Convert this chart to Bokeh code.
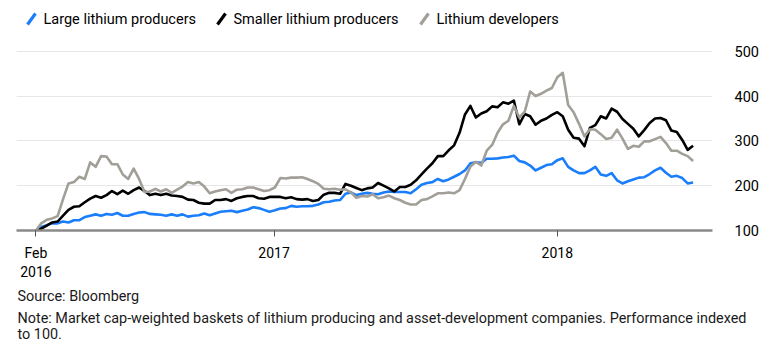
import pandas as pd
from datetime import datetime
from bokeh.plotting import figure
from bokeh.layouts import column
from bokeh.models import Range1d, FixedTicker, ColumnDataSource
from bokeh.core.properties import value
from bokeh.embed import file_html
from bokeh.resources import INLINE

FONT = "Roboto"

# ---- data (weekly readings, indexed to 100) ----
dates = pd.date_range("2016-02-29", "2018-06-25", freq="7D")

large = [100, 108, 112, 116, 116, 120, 118, 123, 123, 130, 133, 136, 133, 137, 135, 139,
         133, 133, 137, 140, 141, 137, 136, 135, 133, 136, 133, 136, 131, 133, 134, 138,
         134, 138, 142, 143, 144, 141, 144, 147, 152, 150, 146, 142, 145, 149, 150, 155,
         153, 154, 154, 155, 158, 163, 164, 167, 168, 182, 185, 179, 182, 184, 182, 181,
         185, 187, 186, 186, 186, 183, 192, 202, 206, 208, 215, 210, 214, 220, 226, 234,
         250, 252, 251, 260, 260, 261, 263, 264, 267, 255, 252, 245, 234, 240, 246, 248,
         257, 261, 242, 234, 228, 228, 234, 242, 225, 222, 228, 212, 205, 210, 214, 218,
         219, 226, 234, 240, 229, 220, 222, 217, 205, 207]

smaller = [100, 104, 111, 118, 120, 133, 146, 153, 154, 163, 171, 177, 173, 179, 188, 181,
           189, 182, 190, 196, 188, 179, 182, 179, 182, 178, 177, 175, 169, 168, 162, 160,
           160, 168, 168, 170, 166, 172, 175, 177, 177, 172, 171, 175, 175, 175, 172, 174,
           170, 169, 170, 166, 168, 180, 184, 184, 182, 204, 200, 195, 190, 194, 196, 206,
           200, 194, 187, 197, 197, 202, 212, 225, 238, 250, 266, 266, 279, 290, 318, 359,
           378, 352, 361, 366, 377, 375, 386, 383, 390, 337, 360, 355, 336, 345, 350, 358,
           364, 355, 325, 307, 305, 288, 329, 335, 355, 350, 372, 365, 349, 338, 327, 310,
           324, 340, 350, 351, 346, 323, 320, 302, 280, 289]

developers = [100, 116, 124, 127, 132, 170, 205, 208, 220, 215, 252, 242, 266, 265, 248, 248,
              225, 215, 238, 215, 186, 187, 193, 187, 192, 184, 191, 198, 208, 205, 208, 198,
              183, 187, 190, 192, 184, 191, 192, 196, 196, 192, 188, 190, 196, 217, 216, 218,
              218, 219, 215, 210, 204, 193, 192, 193, 191, 192, 185, 173, 177, 176, 181, 172,
              174, 178, 172, 168, 162, 158, 158, 168, 170, 176, 183, 183, 185, 183, 190, 215,
              243, 253, 245, 278, 291, 318, 337, 345, 378, 352, 365, 410, 400, 405, 412, 418,
              442, 452, 380, 364, 338, 310, 326, 325, 315, 304, 307, 325, 305, 282, 289, 287,
              299, 299, 304, 309, 295, 278, 278, 271, 266, 255]

series_names = ["Large lithium producers", "Smaller lithium producers", "Lithium developers"]
series_colors = ["#1a7efb", "#000000", "#a29f99"]

y_ticks = [100, 200, 300, 400, 500]
x_tick_dates = [datetime(2016, 2, 29), datetime(2017, 1, 1), datetime(2018, 1, 1)]
x_tick_labels = ["Feb\n2016", "2017", "2018"]

source_text = "Source: Bloomberg"
note_lines = ["Note: Market cap-weighted baskets of lithium producing and asset-development "
              "companies. Performance indexed", "to 100."]

W = 763


def strip(height):
    f = figure(width=W, height=height, output_backend="svg", toolbar_location=None,
               x_range=Range1d(0, W), y_range=Range1d(height, 0),
               x_axis_location=None, y_axis_location=None,
               min_border=0, min_border_left=0, min_border_right=0,
               min_border_top=0, min_border_bottom=0, frame_align=False)
    f.grid.visible = False
    f.outline_line_color = None
    return f


# ---- legend strip ----
leg = strip(35)
leg_icon_x = [27, 217, 420]
leg_text_x = [43, 233, 436]
leg.segment(x0=leg_icon_x, y0=[24] * 3,
            x1=[x + 8 for x in leg_icon_x], y1=[13] * 3,
            line_color=series_colors, line_width=3.2)
leg.text(x=leg_text_x, y=[18.5] * 3, text=series_names,
         text_font=value(FONT), text_font_size="14.5px", text_color="#000000",
         text_baseline="middle", text_align="left")

# ---- main chart ----
p = figure(width=W, height=247, output_backend="svg", toolbar_location=None,
           x_axis_type="datetime", y_axis_location="right",
           x_range=Range1d(datetime(2016, 2, 4), datetime(2018, 7, 20)),
           y_range=Range1d(100, 524),
           min_border_left=16, min_border_right=51, min_border_top=5, min_border_bottom=50)
p.outline_line_color = None
p.background_fill_color = "white"
p.border_fill_color = "white"

src = ColumnDataSource(dict(date=dates, large=large, smaller=smaller, developers=developers))
for col, color in zip(["large", "smaller", "developers"], series_colors):
    p.line(x="date", y=col, source=src, line_color=color, line_width=2.6, line_join="round")

p.xgrid.visible = False
p.ygrid.ticker = FixedTicker(ticks=y_ticks[1:])
p.ygrid.grid_line_color = "#e6e6e6"
p.ygrid.grid_line_width = 1

yax = p.yaxis[0]
yax.ticker = FixedTicker(ticks=y_ticks)
yax.axis_line_color = None
yax.major_tick_line_color = None
yax.minor_tick_line_color = None
yax.major_label_standoff = 16
yax.major_label_text_font = FONT
yax.major_label_text_font_size = "14.5px"
yax.major_label_text_color = "#000000"

xax = p.xaxis[0]
xax.ticker = FixedTicker(ticks=[d.timestamp() * 1000 for d in x_tick_dates])
xax.major_label_overrides = {d.timestamp() * 1000: lab for d, lab in zip(x_tick_dates, x_tick_labels)}
xax.axis_line_color = "#8a8a8a"
xax.axis_line_width = 2.5
xax.major_tick_line_color = "#555555"
xax.major_tick_line_width = 1
xax.major_tick_in = 0
xax.major_tick_out = 6
xax.minor_tick_line_color = None
xax.major_label_standoff = 8
xax.major_label_text_font = FONT
xax.major_label_text_font_size = "14px"
xax.major_label_text_color = "#000000"

# ---- notes strip ----
nt = strip(74)
nt.text(x=[17, 17, 17], y=[14, 36, 52], text=[source_text] + note_lines,
        text_font=value(FONT), text_font_size="14.4px", text_color="#1a1a1a",
        text_baseline="middle", text_align="left")

layout = column(leg, p, nt, spacing=0)
open("out.html", "w").write(file_html(layout, INLINE))
